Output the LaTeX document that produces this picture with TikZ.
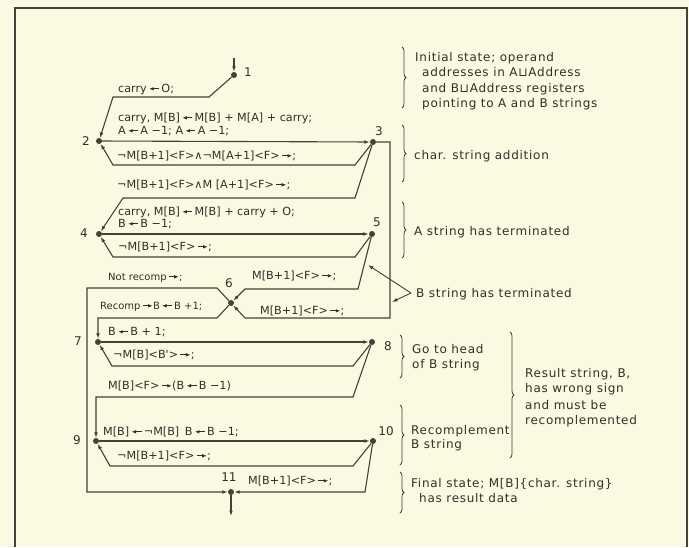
\documentclass[tikz,border=0pt]{standalone}
\usepackage{fontspec}
\setmainfont{DejaVu Sans}
\newfontfamily\annfont[LetterSpace=6]{DejaVu Sans}
\newfontfamily\lblfont{DejaVu Sans}
\usetikzlibrary{arrows.meta,decorations.pathreplacing}
\definecolor{bg}{RGB}{250,250,226}
\definecolor{ink}{RGB}{72,62,58}
\definecolor{txt}{RGB}{52,46,42}
\newcommand{\myLar}{\,\tikz[baseline=-3.2pt,x=1pt,y=1pt]\draw[txt,line width=0.85pt,{Latex[length=4.5pt,width=3.6pt]}-](0,0)--(10,0);\,}
\newcommand{\myRar}{\,\tikz[baseline=-3.2pt,x=1pt,y=1pt]\draw[txt,line width=0.85pt,-{Latex[length=4.5pt,width=3.6pt]}](0,0)--(10,0);}
\tikzset{
  flow/.style={draw=ink, line width=1.1pt},
  arr/.style={-{Latex[length=5.5pt,width=3.8pt]}},
  dot/.style={circle, fill=ink, inner sep=0pt, minimum size=6pt},
  lbl/.style={anchor=base west, inner sep=0pt, text=txt, font=\lblfont\fontsize{11.2}{13}\selectfont},
  slbl/.style={anchor=base west, inner sep=0pt, text=txt, font=\lblfont\fontsize{10}{12}\selectfont},
  ann/.style={anchor=base west, inner sep=0pt, text=txt, font=\annfont\fontsize{12}{14}\selectfont},
  num/.style={inner sep=0pt, text=txt, font=\fontsize{12}{14}\selectfont},
  brc/.style={draw=ink, line width=0.8pt, decorate, decoration={brace, amplitude=4pt}}
}
\begin{document}
\begin{tikzpicture}[x=1pt,y=-1pt]
\useasboundingbox (0,0) rectangle (689,547);
\fill[bg] (0,0) rectangle (689,547);
\draw[ink, line width=1.4pt] (15,547) -- (15,8) -- (687,8) -- (687,547);

% nodes
\node[dot] (n1) at (234,75) {};
\node[dot] (n2) at (99,141) {};
\node[dot] (n3) at (373,142) {};
\node[dot] (n4) at (99,234) {};
\node[dot] (n5) at (372,234) {};
\node[dot] (n6) at (231,303) {};
\node[dot] (n7) at (98,342) {};
\node[dot] (n8) at (372,342) {};
\node[dot] (n9) at (96,441) {};
\node[dot] (n10) at (373,441) {};
\node[dot] (n11) at (231,492) {};

% numbers
\node[num] (t1) at (248,72) {1};
\node[num] (t2) at (86,141) {2};
\node[num] (t3) at (379,131) {3};
\node[num] (t4) at (84,233) {4};
\node[num] (t5) at (377,222) {5};
\node[num] (t6) at (229,283) {6};
\node[num] (t7) at (78,341) {7};
\node[num] (t8) at (388,346) {8};
\node[num] (t9) at (77,440) {9};
\node[num] (t10) at (386,431) {10};
\node[num] (t11) at (229,477) {11};

% corner coordinates
\coordinate (e1) at (234,58);
\coordinate (a1) at (209,97);
\coordinate (a2) at (113,97);
\coordinate (b1) at (355,165);
\coordinate (b2) at (113,165);
\coordinate (c1) at (355,198);
\coordinate (c2) at (123,198);
\coordinate (d1) at (355,257);
\coordinate (d2) at (113,257);
\coordinate (f1) at (358,289);
\coordinate (f2) at (245,289);
\coordinate (g1) at (390,142);
\coordinate (g2) at (390,318);
\coordinate (g3) at (245,318);
\coordinate (h1) at (217,288);
\coordinate (h2) at (87,288);
\coordinate (h3) at (87,492);
\coordinate (k1) at (217,318);
\coordinate (k2) at (98,318);
\coordinate (p1) at (353,366);
\coordinate (p2) at (112,366);
\coordinate (m1) at (353,397);
\coordinate (m2) at (96,397);
\coordinate (q1) at (353,466);
\coordinate (q2) at (110,466);
\coordinate (r1) at (365,492);
\coordinate (s1) at (231,516);

% connectors
\draw[flow,arr] (e1) -- (n1);
\draw[flow,arr] (n1) -- (a1) -- (a2) -- (n2);
\draw[flow,arr] (n2) -- (n3);
\draw[flow,arr] (n3) -- (b1) -- (b2) -- (n2);
\draw[flow,arr] (n3) -- (c1) -- (c2) -- (n4);
\draw[flow,arr] (n4) -- (n5);
\draw[flow,arr] (n5) -- (d1) -- (d2) -- (n4);
\draw[flow,arr] (n5) -- (f1) -- (f2) -- (n6);
\draw[flow,arr] (n3) -- (g1) -- (g2) -- (g3) -- (n6);
\draw[flow,arr] (n6) -- (h1) -- (h2) -- (h3) -- (n11);
\draw[flow,arr] (n6) -- (k1) -- (k2) -- (n7);
\draw[flow,arr] (n7) -- (n8);
\draw[flow,arr] (n8) -- (p1) -- (p2) -- (n7);
\draw[flow,arr] (n8) -- (m1) -- (m2) -- (n9);
\draw[flow,arr] (n9) -- (n10);
\draw[flow,arr] (n10) -- (q1) -- (q2) -- (n9);
\draw[flow,arr] (n10) -- (r1) -- (n11);
\draw[flow,arr] (n11) -- (s1);

% flow labels
\node[lbl] (l1) at (118,92) {carry\myLar O;};
\node[lbl] (l2) at (118,121) {carry, M[B]\myLar M[B] + M[A] + carry;};
\node[lbl] (l3) at (118,134) {A\myLar A −1; A\myLar A −1;};
\node[lbl] (l4) at (117,159) {¬M[B+1]<F>∧¬M[A+1]<F>\myRar;};
\node[lbl] (l5) at (117,188) {¬M[B+1]<F>∧M [A+1]<F>\myRar;};
\node[lbl] (l6) at (118,215) {carry, M[B]\myLar M[B] + carry + O;};
\node[lbl] (l7) at (118,227) {B\myLar B −1;};
\node[lbl] (l8) at (118,250) {¬M[B+1]<F>\myRar;};
\node[slbl] (l9) at (108,280) {Not recomp\myRar;};
\node[lbl] (l10) at (252,279) {M[B+1]<F>\myRar;};
\node[slbl] (l11) at (100,309) {Recomp\myRar B\myLar B +1;};
\node[lbl] (l12) at (260,314) {M[B+1]<F>\myRar;};
\node[lbl] (l13) at (108,335) {B\myLar B + 1;};
\node[lbl] (l14) at (113,358) {¬M[B]<B'>\myRar;};
\node[lbl] (l15) at (108,389) {M[B]<F>\myRar(B\myLar B −1)};
\node[lbl] (l16) at (103,435) {M[B]\myLar ¬M[B]\enspace B\myLar B −1;};
\node[lbl] (l17) at (117,459) {¬M[B+1]<F>\myRar;};
\node[lbl] (l18) at (248,484) {M[B+1]<F>\myRar;};

% braces
\draw[brc] (402,47) -- (402,108);
\draw[brc] (402,125) -- (402,182);
\draw[brc] (402,202) -- (402,258);
\draw[brc] (400,335) -- (400,378);
\draw[brc] (510,332) -- (510,458);
\draw[brc] (400,405) -- (400,465);
\draw[brc] (400,472) -- (400,513);

% annotations
\node[ann] (x1) at (415,61) {Initial state; operand};
\node[ann] (x2) at (422,76) {addresses in A⊔Address};
\node[ann] (x3) at (422,92) {and B⊔Address registers};
\node[ann] (x4) at (422,107) {pointing to A and B strings};
\node[ann] (x5) at (414,159) {char. string addition};
\node[ann] (x6) at (414,235) {A string has terminated};
\node[ann] (x7) at (416,297) {B string has terminated};
\node[ann] (x8) at (412,353) {Go to head};
\node[ann] (x9) at (412,368) {of B string};
\node[ann] (x10) at (525,377) {Result string, B,};
\node[ann] (x11) at (525,392) {has wrong sign};
\node[ann] (x12) at (525,409) {and must be};
\node[ann] (x13) at (525,424) {recomplemented};
\node[ann] (x14) at (411,434) {Recomplement};
\node[ann] (x15) at (411,448) {B string};
\node[ann] (x16) at (411,487) {Final state; M[B]\{char. string\}};
\node[ann] (x17) at (419,502) {has result data};

% B string pointers
\coordinate (bt) at (411,293);
\coordinate (bt1) at (368,265);
\coordinate (bt2) at (392,302);
\draw[draw=ink, line width=0.9pt, arr] (bt) -- (bt1);
\draw[draw=ink, line width=0.9pt, arr] (bt) -- (bt2);
\end{tikzpicture}
\end{document}
